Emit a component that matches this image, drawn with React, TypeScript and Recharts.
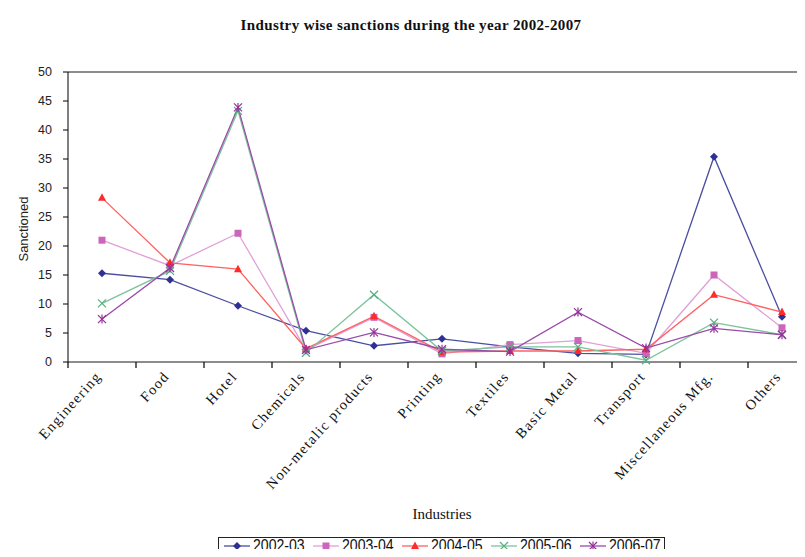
import React from "react";
import { LineChart, Line, XAxis, YAxis, ReferenceLine, Label } from "recharts";

// Industry categories, in axis order
const industries = [
  "Engineering",
  "Food",
  "Hotel",
  "Chemicals",
  "Non-metalic products",
  "Printing",
  "Textiles",
  "Basic Metal",
  "Transport",
  "Miscellaneous Mfg.",
  "Others",
];

// Sanctions per year
const y2002 = [15.3, 14.2, 9.7, 5.4, 2.8, 4.0, 2.6, 1.5, 1.3, 35.4, 7.8];
const y2003 = [21.0, 16.6, 22.2, 2.1, 7.7, 1.4, 3.0, 3.7, 1.5, 15.0, 5.9];
const y2004 = [28.3, 17.1, 16.0, 2.3, 7.9, 1.7, 1.9, 1.9, 2.2, 11.6, 8.6];
const y2005 = [10.1, 15.7, 43.3, 1.6, 11.6, 1.9, 2.6, 2.6, 0.3, 6.8, 4.7];
const y2006 = [7.4, 16.2, 43.9, 2.1, 5.1, 2.2, 1.8, 8.6, 2.4, 5.8, 4.7];

const yTicks = [0, 5, 10, 15, 20, 25, 30, 35, 40, 45, 50];

type Shape = "diamond" | "square" | "triangle" | "cross" | "star";

const series: { key: string; name: string; values: number[]; color: string; shape: Shape }[] = [
  { key: "s2002", name: "2002-03", values: y2002, color: "#2e3192", shape: "diamond" },
  { key: "s2003", name: "2003-04", values: y2003, color: "#cc66bb", shape: "square" },
  { key: "s2004", name: "2004-05", values: y2004, color: "#ff2a2a", shape: "triangle" },
  { key: "s2005", name: "2005-06", values: y2005, color: "#55b07f", shape: "cross" },
  { key: "s2006", name: "2006-07", values: y2006, color: "#93309a", shape: "star" },
];

const lineColors: Record<string, string> = {
  s2002: "#4a4ea0",
  s2003: "#e0a0d8",
  s2004: "#ff6060",
  s2005: "#7cc49c",
  s2006: "#9a4aa8",
};

// one row per industry, placed at the middle of its slot
const data = industries.map((name, i) => {
  const row: Record<string, number | string> = { pos: i + 0.5, name };
  series.forEach((s) => {
    row[s.key] = s.values[i];
  });
  return row;
});

// ticks sit on the slot boundaries, like the old Excel chart
const boundaryTicks = [...industries.map((_, i) => i), industries.length];

function Marker({ cx, cy, shape, color }: { cx: number; cy: number; shape: Shape; color: string }) {
  switch (shape) {
    case "diamond":
      return (
        <polygon
          points={`${cx},${cy - 4} ${cx + 4},${cy} ${cx},${cy + 4} ${cx - 4},${cy}`}
          fill={color}
        />
      );
    case "square":
      return <rect x={cx - 3.5} y={cy - 3.5} width={7} height={7} fill={color} />;
    case "triangle":
      return (
        <polygon
          points={`${cx},${cy - 4.5} ${cx + 4},${cy + 3} ${cx - 4},${cy + 3}`}
          fill={color}
        />
      );
    case "cross":
      return (
        <g stroke={color} strokeWidth={1.2}>
          <line x1={cx - 4} y1={cy - 4} x2={cx + 4} y2={cy + 4} />
          <line x1={cx - 4} y1={cy + 4} x2={cx + 4} y2={cy - 4} />
        </g>
      );
    default:
      return (
        <g stroke={color} strokeWidth={1.2}>
          <line x1={cx - 4} y1={cy - 4} x2={cx + 4} y2={cy + 4} />
          <line x1={cx - 4} y1={cy + 4} x2={cx + 4} y2={cy - 4} />
          <line x1={cx} y1={cy - 4.5} x2={cx} y2={cy + 4.5} />
        </g>
      );
  }
}

// label of the slot that starts at this boundary tick
const CategoryTick = (props: any) => {
  const { x, y, payload, width } = props;
  const label = industries[Math.round(payload.value)];
  if (!label) return <g />;
  const ax = x + width / (2 * industries.length);
  const ay = y + 7;
  return (
    <text
      x={ax}
      y={ay}
      transform={`rotate(-48, ${ax}, ${ay})`}
      textAnchor="end"
      fontFamily="'Liberation Serif', serif"
      fontSize={14.5}
      letterSpacing={1.3}
      fill="#111"
    >
      {label}
    </text>
  );
};

export default function App() {
  return (
    <div
      style={{
        position: "relative",
        width: 805,
        height: 557,
        margin: -8,
        overflow: "hidden",
        background: "#fff",
      }}
    >
      <div
        style={{
          position: "absolute",
          left: 0,
          top: 17,
          width: 822,
          textAlign: "center",
          fontFamily: "'Liberation Serif', serif",
          fontWeight: "bold",
          fontSize: 15,
          letterSpacing: 0.4,
          lineHeight: "17px",
          color: "#111",
        }}
      >
        Industry wise sanctions during the year 2002-2007
      </div>

      <LineChart
        width={820}
        height={557}
        data={data}
        margin={{ top: 72, right: 4, left: 0, bottom: 0 }}
      >
        <XAxis
          type="number"
          dataKey="pos"
          domain={[0, industries.length]}
          ticks={boundaryTicks}
          interval={0}
          tick={<CategoryTick />}
          tickSize={6}
          height={195}
          stroke="#000"
          axisLine={{ stroke: "#8c8c8c", strokeWidth: 2 }}
          tickLine={{ stroke: "#000", strokeWidth: 1.2 }}
        >
          <Label
            value="Industries"
            position="insideBottom"
            offset={38}
            style={{ fontFamily: "'Liberation Serif', serif", fontSize: 15, fill: "#111" }}
          />
        </XAxis>
        <YAxis
          domain={[0, 50]}
          ticks={yTicks}
          interval={0}
          width={68}
          tickSize={5}
          tickMargin={11}
          tick={{ fontFamily: "'Liberation Sans', sans-serif", fontSize: 12.5, fill: "#222" }}
          axisLine={{ stroke: "#000" }}
          tickLine={{ stroke: "#000" }}
        >
          <Label
            value="Sanctioned"
            angle={-90}
            position="insideLeft"
            offset={23}
            dy={12}
            style={{
              fontFamily: "'Liberation Sans', sans-serif",
              fontSize: 13,
              fill: "#222",
              textAnchor: "middle",
            }}
          />
        </YAxis>
        <ReferenceLine y={50} stroke="#8c8c8c" strokeWidth={2} />
        {series.map((s) => (
          <Line
            key={s.key}
            dataKey={s.key}
            name={s.name}
            stroke={lineColors[s.key]}
            strokeWidth={1.3}
            isAnimationActive={false}
            dot={(p: any) => (
              <Marker key={`${s.key}-${p.index}`} cx={p.cx} cy={p.cy} shape={s.shape} color={s.color} />
            )}
            activeDot={false}
          />
        ))}
      </LineChart>

      <div
        style={{
          position: "absolute",
          left: 218,
          top: 537,
          width: 447,
          height: 30,
          boxSizing: "border-box",
          border: "1.5px solid #222",
          background: "#fff",
          display: "flex",
          alignItems: "flex-start",
          paddingLeft: 5,
          paddingTop: 0,
          fontFamily: "'Liberation Sans', sans-serif",
          fontSize: 16,
          lineHeight: "15px",
          color: "#111",
          whiteSpace: "nowrap",
        }}
      >
        {series.map((s) => (
          <div
            key={s.key}
            style={{ display: "flex", alignItems: "center", marginRight: 8, flexShrink: 0 }}
          >
            <svg width={26} height={12} style={{ marginRight: 3 }}>
              <line x1={0} y1={6} x2={26} y2={6} stroke={lineColors[s.key]} strokeWidth={1.3} />
              <Marker cx={13} cy={6} shape={s.shape} color={s.color} />
            </svg>
            <span
              style={{
                width: 52,
                display: "inline-block",
                transform: "scaleX(0.88)",
                transformOrigin: "left center",
              }}
            >
              {s.name}
            </span>
          </div>
        ))}
      </div>
    </div>
  );
}
